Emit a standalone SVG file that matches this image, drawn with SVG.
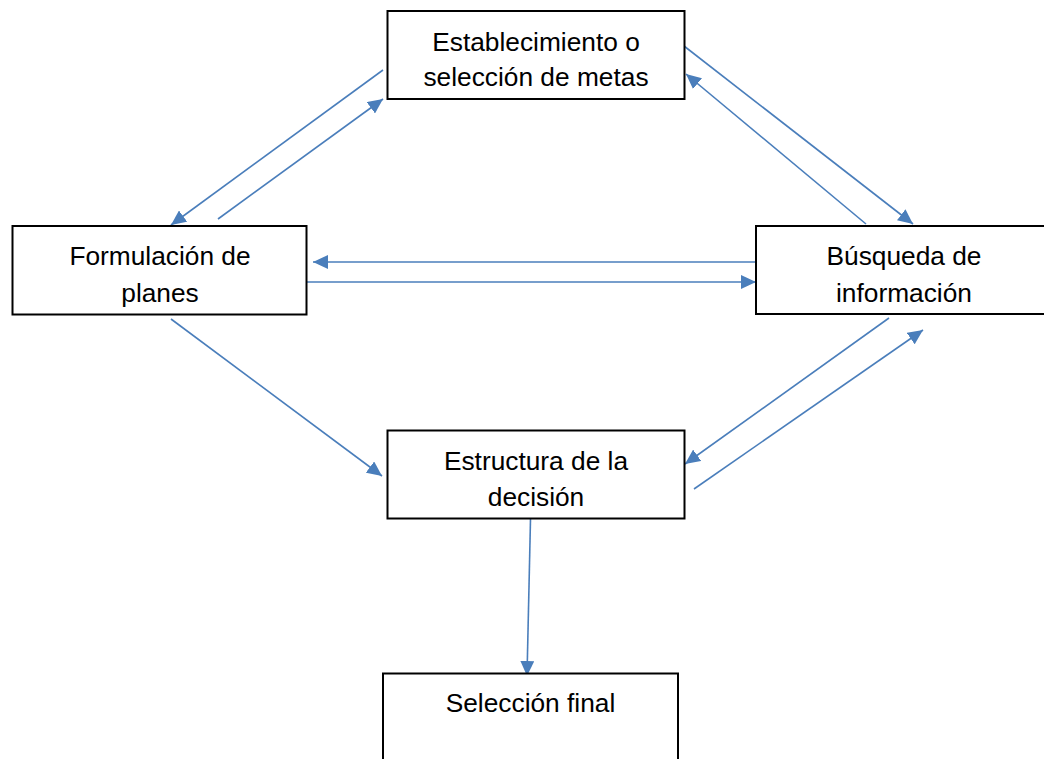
<svg xmlns="http://www.w3.org/2000/svg" width="1044" height="759" viewBox="0 0 1044 759">
<style>
.box{fill:#fff;stroke:#000;stroke-width:2}
.lbl{font-family:"Liberation Sans",Arial,sans-serif;font-size:26.3px;fill:#000;text-anchor:middle}
.con{stroke:#4A7EBB;stroke-width:1.6;fill:none;marker-end:url(#ah)}
</style>
<defs>
<marker id="ah" markerUnits="userSpaceOnUse" markerWidth="16" markerHeight="14" refX="15" refY="7" orient="auto">
<path d="M0,0 L15,7 L0,14 Z" fill="#4A7EBB"/>
</marker>
</defs>
<rect width="1044" height="759" fill="#fff"/>
<g id="connectors">
<line class="con" x1="383" y1="70" x2="171" y2="225"/>
<line class="con" x1="218" y1="219" x2="383" y2="99"/>
<line class="con" x1="684" y1="46" x2="913" y2="224"/>
<line class="con" x1="866" y1="224" x2="686" y2="74"/>
<line class="con" x1="756" y1="262" x2="313" y2="262"/>
<line class="con" x1="307" y1="282" x2="756" y2="282"/>
<line class="con" x1="889" y1="318" x2="685" y2="464"/>
<line class="con" x1="694" y1="489" x2="923" y2="330"/>
<line class="con" x1="171" y1="319" x2="382" y2="476"/>
<line class="con" x1="530.5" y1="519" x2="527" y2="676"/>
</g>
<g id="n1">
<rect class="box" x="387.5" y="11" width="297" height="88"/>
<text class="lbl" x="536" y="51">Establecimiento o</text>
<text class="lbl" x="536" y="86">selección de metas</text>
</g>
<g id="n2">
<rect class="box" x="12.5" y="226" width="294" height="88.5"/>
<text class="lbl" x="160" y="265">Formulación de</text>
<text class="lbl" x="160" y="301.5">planes</text>
</g>
<g id="n3">
<rect class="box" x="756" y="226" width="300" height="88"/>
<text class="lbl" x="904" y="265">Búsqueda de</text>
<text class="lbl" x="904" y="301.5">información</text>
</g>
<g id="n4">
<rect class="box" x="387.5" y="430.5" width="297" height="88"/>
<text class="lbl" x="536" y="470">Estructura de la</text>
<text class="lbl" x="536" y="506">decisión</text>
</g>
<g id="n5">
<rect class="box" x="383" y="673.5" width="295" height="100"/>
<text class="lbl" x="530.5" y="711.5">Selección final</text>
</g>
</svg>
